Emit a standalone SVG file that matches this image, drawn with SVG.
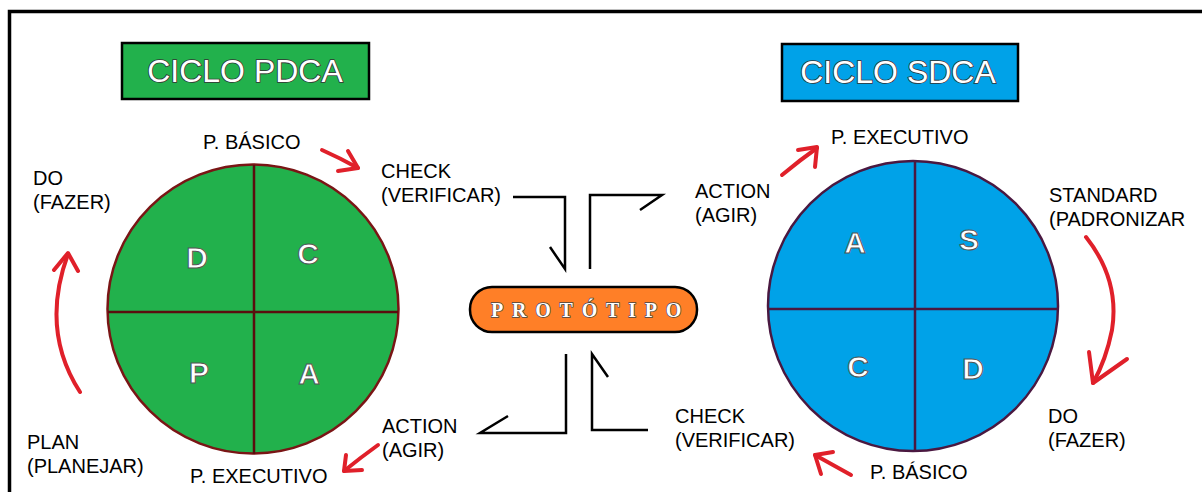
<svg xmlns="http://www.w3.org/2000/svg" width="1202" height="492" viewBox="0 0 1202 492">
<defs>
<style>
.t{font-family:"Liberation Sans",Arial,sans-serif;font-size:20px;fill:#000}
.q{font-family:"Liberation Sans",Arial,sans-serif;font-size:30px;font-weight:bold;fill:#fff;stroke:#555;stroke-width:1}
.h{font-family:"Liberation Sans",Arial,sans-serif;font-size:32px;fill:#fff;stroke:#333;stroke-width:1.6;paint-order:stroke}
.div{stroke-width:2.5;fill:none}
.red{stroke:#e0202a;stroke-width:4;fill:none;stroke-linecap:round;stroke-linejoin:round}
.con{stroke:#000;stroke-width:2.5;fill:none}
</style>
</defs>
<rect width="1202" height="492" fill="#fff"/>
<path d="M9.5 500 V11.5 H1210" fill="none" stroke="#000" stroke-width="3.5"/>

<g id="title-pdca">
<rect x="122" y="43" width="247" height="56" fill="#22b14c" stroke="#000" stroke-width="2.5"/>
<text class="h" x="245" y="82" text-anchor="middle">CICLO PDCA</text>
</g>
<g id="title-sdca">
<rect x="782" y="44" width="236" height="57" fill="#00a2e8" stroke="#000" stroke-width="2.5"/>
<text class="h" x="898" y="83" text-anchor="middle">CICLO SDCA</text>
</g>

<g id="pdca-circle">
<ellipse cx="253" cy="309" rx="145.5" ry="144.5" fill="#22b14c" stroke="#7a1515" stroke-width="2.5"/>
<line class="div" x1="254" y1="165" x2="254" y2="454" stroke="#5a0e0e"/>
<line class="div" x1="108" y1="312" x2="398" y2="312" stroke="#5a0e0e"/>
<text class="q" x="197" y="268" text-anchor="middle">D</text>
<text class="q" x="308" y="264" text-anchor="middle">C</text>
<text class="q" x="199" y="383" text-anchor="middle">P</text>
<text class="q" x="309" y="384" text-anchor="middle">A</text>
</g>

<g id="sdca-circle">
<ellipse cx="913" cy="306" rx="145" ry="145" fill="#00a2e8" stroke="#4a1840" stroke-width="2.5"/>
<line class="div" x1="915" y1="161" x2="915" y2="451" stroke="#4a1840"/>
<line class="div" x1="768" y1="309" x2="1058" y2="309" stroke="#4a1840"/>
<text class="q" x="855" y="253" text-anchor="middle">A</text>
<text class="q" x="969" y="250" text-anchor="middle">S</text>
<text class="q" x="858" y="377" text-anchor="middle">C</text>
<text class="q" x="973" y="379" text-anchor="middle">D</text>
</g>

<g id="prototipo">
<rect x="470" y="287" width="227" height="45" rx="22" ry="22" fill="#ff7f27" stroke="#000" stroke-width="2.5"/>
<text x="491" y="317" font-family="'Liberation Serif','Times New Roman',serif" font-size="20" font-weight="bold" fill="#fff" stroke="#444" stroke-width="1.4" paint-order="stroke" letter-spacing="8.8">PROTÓTIPO</text>
</g>

<g id="labels-left">
<text class="t" x="203" y="149">P. BÁSICO</text>
<text class="t" x="33" y="185">DO</text>
<text class="t" x="33" y="209">(FAZER)</text>
<text class="t" x="381" y="178">CHECK</text>
<text class="t" x="381" y="202">(VERIFICAR)</text>
<text class="t" x="27" y="449">PLAN</text>
<text class="t" x="27" y="473">(PLANEJAR)</text>
<text class="t" x="190" y="483">P. EXECUTIVO</text>
<text class="t" x="382" y="433">ACTION</text>
<text class="t" x="382" y="457">(AGIR)</text>
</g>

<g id="labels-right">
<text class="t" x="831" y="144">P. EXECUTIVO</text>
<text class="t" x="695" y="198">ACTION</text>
<text class="t" x="695" y="222">(AGIR)</text>
<text class="t" x="1049" y="202">STANDARD</text>
<text class="t" x="1049" y="226">(PADRONIZAR</text>
<text class="t" x="1048" y="423">DO</text>
<text class="t" x="1048" y="447">(FAZER)</text>
<text class="t" x="675" y="423">CHECK</text>
<text class="t" x="675" y="447">(VERIFICAR)</text>
<text class="t" x="870" y="479">P. BÁSICO</text>
</g>

<g id="connectors">
<polyline class="con" points="513,197 565,197 565,269 550,247"/>
<polyline class="con" points="590,269 590,195 662,195 640,210"/>
<polyline class="con" points="566,354 566,433 480,433 508,416"/>
<polyline class="con" points="648,430 592,430 592,354 608,377"/>

<path class="red" d="M322 150 Q340 158 358 168"/>
<path class="red" d="M348 151 L358 168 L338 171"/>
<path class="red" d="M80 392 Q40 330 68 254"/>
<path class="red" d="M54 270 L68 253 L78 271"/>
<path class="red" d="M378 445 Q360 458 344 471"/>
<path class="red" d="M346 455 L344 471 L362 470"/>

<path class="red" d="M782 175 Q800 160 817 148"/>
<path class="red" d="M798 150 L817 147 L815 167"/>
<path class="red" d="M1086 237 Q1120 280 1112 330 Q1106 360 1093 383"/>
<path class="red" d="M1089 352 L1093 383 L1127 359"/>
<path class="red" d="M851 475 Q833 465 815 455"/>
<path class="red" d="M833 452 L815 455 L821 474"/>
</g>
</svg>
